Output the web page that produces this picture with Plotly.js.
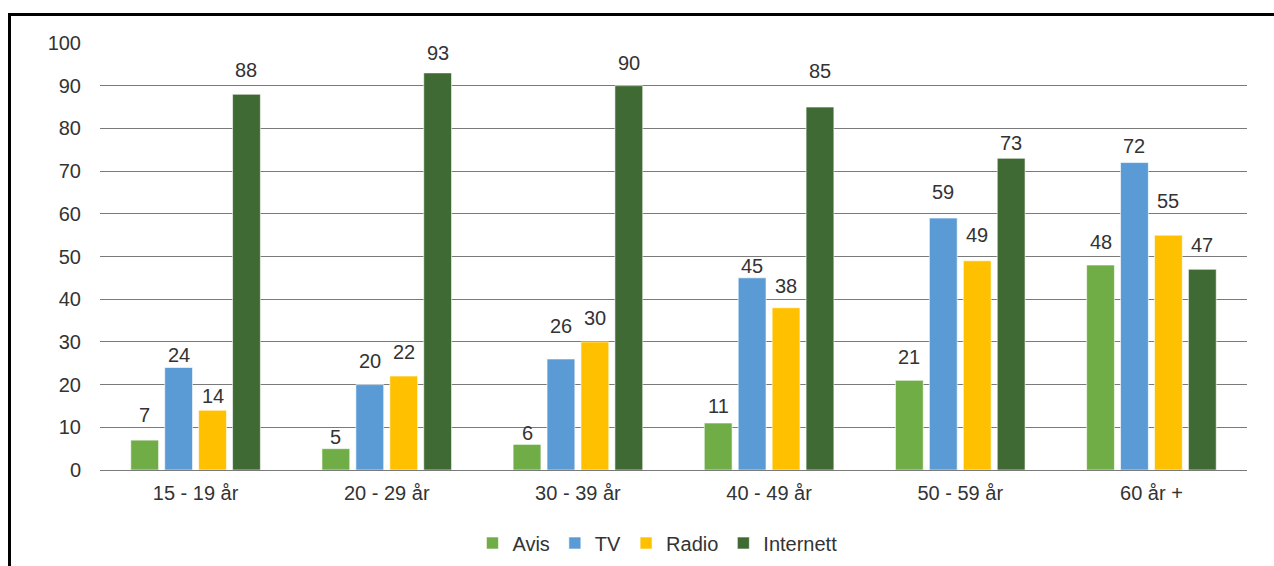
<!DOCTYPE html>
<html>
<head>
<meta charset="utf-8">
<script src="https://cdn.plot.ly/plotly-3.0.1.min.js"></script>
<style>
  html, body { margin: 0; padding: 0; background: #fff; }
  #wrap { position: relative; width: 1274px; height: 566px; overflow: hidden; }
  #chart { width: 1274px; height: 566px; }
  #frame { position: absolute; left: 8px; top: 13px; width: 1280px; height: 580px;
           border: 3px solid #000; box-sizing: border-box; pointer-events: none; }
</style>
</head>
<body>
<div id="wrap">
  <div id="chart"></div>
  <div id="frame"></div>
</div>
<script>
// Age groups and share of each medium (percent)
const ageGroups = ["15 - 19 år", "20 - 29 år", "30 - 39 år", "40 - 49 år", "50 - 59 år", "60 år +"];
const avis      = [7, 5, 6, 11, 21, 48];
const tv        = [24, 20, 26, 45, 59, 72];
const radio     = [14, 22, 30, 38, 49, 55];
const internett = [88, 93, 90, 85, 73, 47];

const seriesNames  = ["Avis", "TV", "Radio", "Internett"];
const seriesValues = [avis, tv, radio, internett];
const seriesColors = ["#70AD47", "#5B9BD5", "#FFC000", "#3F6A33"];

// Space (px) between each bar top and its value label
const labelGaps = [
  [17, 4, 3, 9, 15, 15],
  [5, 16, 25, 4, 18, 9],
  [6, 16, 16, 14, 18, 26],
  [16, 12, 15, 28, 7, 16]
];

const font = "Liberation Sans, Arial, sans-serif";
const textColor = "#333333";

// Plot geometry
const W = 1274, H = 566;
const M = { l: 100, r: 27, t: 43, b: 96, autoexpand: false };
const BARGAP = 0.29, GROUPGAP = 0.18;
const catWidth = (W - M.l - M.r) / ageGroups.length;
const slot = catWidth * (1 - BARGAP) / seriesNames.length;
const glyphOffset = 5; // distance from annotation box bottom to digit baseline

const traces = seriesNames.map((name, i) => ({
  type: "bar",
  name: name,
  x: ageGroups,
  y: seriesValues[i],
  marker: { color: seriesColors[i], line: { color: "rgba(255,255,255,0.6)", width: 1 } },
  hoverinfo: "x+y+name"
}));

// Value labels above each bar
const annotations = [];
seriesValues.forEach((vals, i) => {
  vals.forEach((v, j) => {
    annotations.push({
      x: ageGroups[j],
      y: v,
      xref: "x",
      yref: "y",
      text: String(v),
      showarrow: false,
      xanchor: "center",
      yanchor: "bottom",
      xshift: (i - (seriesNames.length - 1) / 2) * slot,
      yshift: labelGaps[i][j] - glyphOffset,
      font: { family: font, size: 20, color: textColor }
    });
  });
});

const layout = {
  width: W,
  height: H,
  margin: M,
  paper_bgcolor: "#ffffff",
  plot_bgcolor: "#ffffff",
  barmode: "group",
  bargap: BARGAP,
  bargroupgap: GROUPGAP,
  font: { family: font, size: 20, color: textColor },
  xaxis: {
    type: "category",
    automargin: false,
    showgrid: false,
    showline: false,
    ticks: "",
    ticklabelstandoff: 9,
    tickfont: { family: font, size: 20, color: textColor }
  },
  yaxis: {
    range: [0, 100],
    dtick: 10,
    automargin: false,
    showgrid: true,
    gridcolor: "#7a7a7a",
    gridwidth: 1,
    zeroline: true,
    zerolinecolor: "#7a7a7a",
    zerolinewidth: 1,
    showline: false,
    ticks: "",
    ticklabelstandoff: 18,
    tickfont: { family: font, size: 20, color: textColor }
  },
  legend: {
    orientation: "h",
    x: 0.486,
    xanchor: "center",
    y: -0.171,
    yanchor: "middle",
    font: { family: font, size: 20, color: textColor },
    itemwidth: 30,
    tracegroupgap: 0
  },
  annotations: annotations,
  showlegend: true
};

Plotly.newPlot("chart", traces, layout, { displayModeBar: false, staticPlot: true });
</script>
</body>
</html>
